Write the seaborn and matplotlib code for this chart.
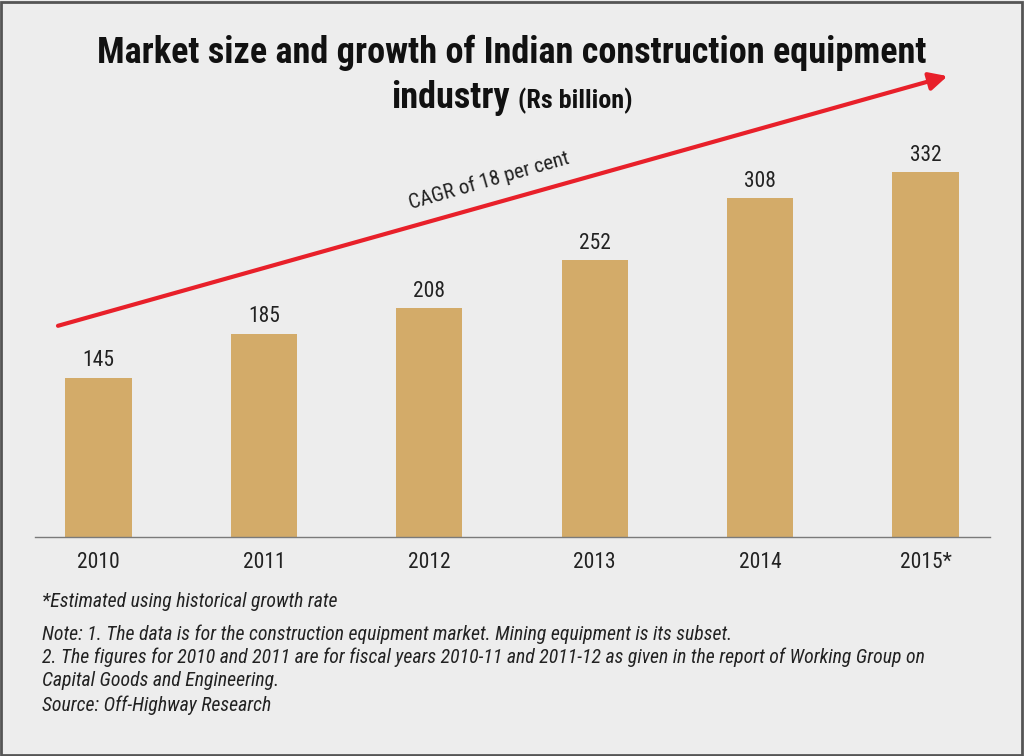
import matplotlib
matplotlib.use("Agg")
import matplotlib.pyplot as plt
from matplotlib.patches import Rectangle
import seaborn as sns
import pandas as pd

years = ["2010", "2011", "2012", "2013", "2014", "2015*"]
market_size = [145, 185, 208, 252, 308, 332]

title_line1 = "Market size and growth of Indian construction equipment"
title_word2 = "industry"
title_unit = "(Rs billion)"
cagr_label = "CAGR of 18 per cent"
footnotes = [
    "*Estimated using historical growth rate",
    "Note: 1. The data is for the construction equipment market. Mining equipment is its subset.",
    "2. The figures for 2010 and 2011 are for fiscal years 2010-11 and 2011-12 as given in the report of Working Group on",
    "Capital Goods and Engineering.",
    "Source: Off-Highway Research",
]

BG = "#ededed"
BAR = "#d3ab69"
RED = "#e8202a"
INK = "#222222"
NARROW = ["Roboto Condensed", "Liberation Sans Narrow", "DejaVu Sans"]

sns.set_theme(style="white", rc={"figure.facecolor": BG, "axes.facecolor": BG})
plt.rcParams["font.family"] = NARROW
plt.rcParams["font.stretch"] = "condensed"

df = pd.DataFrame({"year": years, "size": market_size})

W, H = 1024, 756
fig = plt.figure(figsize=(W / 100, H / 100), dpi=100)
ax = fig.add_axes([35 / W, (H - 537) / H, 955 / W, 506 / H])

sns.barplot(data=df, x="year", y="size", color=BAR, saturation=1, width=0.4,
            linewidth=0, ax=ax)

ax.set_xlim(-0.384, 5.39)
ax.set_ylim(0, 460)
for s in ["top", "left", "right"]:
    ax.spines[s].set_visible(False)
ax.spines["bottom"].set_color("#7a7a7a")
ax.spines["bottom"].set_linewidth(1.0)
ax.set_yticks([])
ax.set_xlabel("")
ax.set_ylabel("")
ax.tick_params(axis="x", which="major", length=0, pad=11, labelsize=15.5, labelcolor=INK)
ax.set_xticks([i + 0.5 for i in range(len(years) - 1)], minor=True)
ax.tick_params(axis="x", which="minor", length=4.5, width=1, color="#7a7a7a", direction="out")

# value labels
for i, v in enumerate(market_size):
    ax.annotate(str(v), (i, v), xytext=(0, 8), textcoords="offset points",
                ha="center", va="baseline", fontsize=15.5, color=INK)

# growth arrow
ax.annotate("", xy=(5.133, 419), xytext=(-0.245, 192),
            arrowprops=dict(arrowstyle="-|>,head_length=0.9,head_width=0.45",
                            color=RED, lw=3, shrinkA=0, shrinkB=0))
ax.text(2.36, 324, cagr_label, rotation=16, rotation_mode="anchor",
        ha="center", va="center", fontsize=15, color=INK)

fig.canvas.draw()
renderer = fig.canvas.get_renderer()


def size_for_width(t, target_px):
    # font size that makes the text target_px wide
    w = t.get_window_extent(renderer).width
    return t.get_fontsize() * target_px / w


# title
t1 = fig.text(512 / W, 1 - 63 / H, title_line1, ha="center", va="baseline",
              fontsize=27, fontweight="bold", color="#111111")
t1.set_fontsize(min(size_for_width(t1, 830), 30))
size1 = t1.get_fontsize()
t2a = fig.text(0, 1 - 108 / H, title_word2, ha="left", va="baseline",
               fontsize=size1, fontweight="bold", color="#111111")
t2b = fig.text(0, 1 - 108 / H, title_unit, ha="left", va="baseline",
               fontsize=size1 * 0.72, fontweight="bold", color="#111111")
wa = t2a.get_window_extent(renderer).width
wb = t2b.get_window_extent(renderer).width
gap = 9
start = 512 - (wa + gap + wb) / 2
t2a.set_x(start / W)
t2b.set_x((start + wa + gap) / W)

# footnotes
foot_y = [607, 640, 663, 686, 711]
texts = [fig.text(42 / W, 1 - y / H, txt, ha="left", va="baseline",
                  fontsize=13.5, style="italic", color=INK)
         for txt, y in zip(footnotes, foot_y)]
foot_size = (size_for_width(texts[1], 686) + size_for_width(texts[2], 888)) / 2
for t in texts:
    t.set_fontsize(foot_size)

# frame
fig.patches.append(Rectangle((0.001, 0.001), 0.997, 0.997, transform=fig.transFigure,
                             fill=False, edgecolor="#555555", linewidth=2))

fig.savefig("out.png", dpi=100, facecolor=BG)
